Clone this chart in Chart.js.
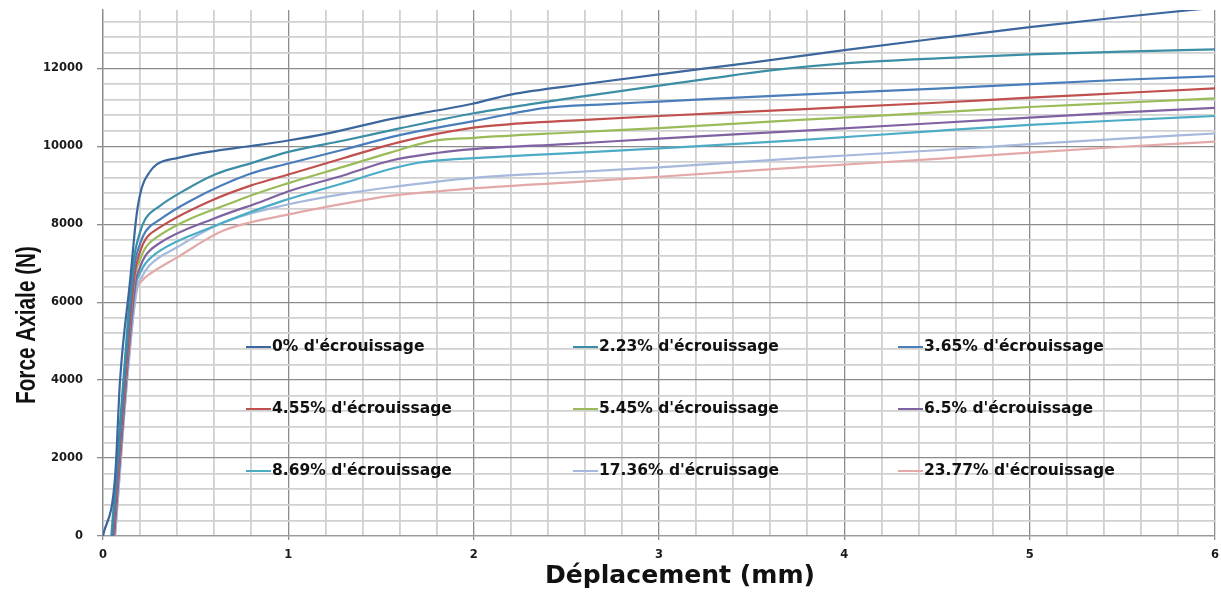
<!DOCTYPE html>
<html>
<head>
<meta charset="utf-8">
<script src="https://cdn.jsdelivr.net/npm/chart.js@4.4.1/dist/chart.umd.min.js"></script>
<style>
  html, body { margin: 0; padding: 0; background: #fff; }
</style>
</head>
<body>
<canvas id="chart" width="1221" height="592"></canvas>
<script>
/* ── DATA ── */
const seriesLabels = [
  "0% d'écrouissage", "2.23% d'écrouissage", "3.65% d'écrouissage",
  "4.55% d'écrouissage", "5.45% d'écrouissage", "6.5% d'écrouissage",
  "8.69% d'écrouissage", "17.36% d'écruissage", "23.77% d'écrouissage"
];
const seriesColors = ['#3c679e', '#3b8ea5', '#4a7ebb', '#c0504d', '#9bbb59', '#7f62a1', '#4bacc6', '#a6b9dc', '#e3a9a8'];

// displacement (mm) / force (N), one pair per curve
const disp0  = [0, 0.065, 0.092, 0.146, 0.182, 0.21, 0.25, 0.29, 0.4, 0.6, 0.8, 1.0, 1.2, 1.55, 1.8, 2.0, 2.2, 2.6, 3.0, 3.5, 4.0, 4.5, 5.0, 5.5, 6.0];
const force0 = [0, 1500, 4000, 6550, 8270, 8950, 9330, 9540, 9700, 9880, 10010, 10150, 10320, 10700, 10920, 11100, 11330, 11600, 11850, 12150, 12470, 12770, 13060, 13320, 13560];
const disp1  = [0.045, 0.11, 0.16, 0.2, 0.23, 0.3, 0.45, 0.61, 0.8, 1.0, 1.3, 1.6, 2.0, 2.3, 2.6, 3.0, 3.3, 3.6, 4.0, 4.5, 5.0, 5.5, 6.0];
const force1 = [0, 4000, 6900, 7800, 8150, 8450, 8900, 9290, 9570, 9860, 10150, 10460, 10850, 11080, 11290, 11560, 11760, 11950, 12130, 12260, 12360, 12430, 12490];
const disp2  = [0.05, 0.115, 0.165, 0.2, 0.23, 0.3, 0.47, 0.79, 1.0, 1.3, 1.6, 2.0, 2.39, 2.7, 3.0, 3.76, 4.5, 5.0, 5.5, 6.0];
const force2 = [0, 4000, 6800, 7500, 7820, 8100, 8600, 9290, 9560, 9920, 10290, 10650, 10990, 11080, 11150, 11330, 11480, 11600, 11710, 11800];
const disp3  = [0.055, 0.12, 0.17, 0.2, 0.23, 0.3, 0.58, 0.8, 1.01, 1.3, 1.6, 2.0, 2.2, 2.6, 3.0, 3.76, 4.5, 5.0, 5.5, 6.0];
const force3 = [0, 4000, 6700, 7300, 7620, 7900, 8600, 9000, 9290, 9700, 10110, 10480, 10570, 10680, 10780, 10950, 11120, 11250, 11370, 11490];
const disp4  = [0.055, 0.12, 0.17, 0.2, 0.23, 0.3, 0.72, 1.01, 1.3, 1.55, 1.78, 2.0, 2.5, 3.0, 3.76, 4.5, 5.0, 5.5, 6.0];
const force4 = [0, 4000, 6600, 7100, 7400, 7700, 8600, 9070, 9480, 9840, 10140, 10220, 10350, 10470, 10680, 10870, 11010, 11120, 11230];
const disp5  = [0.06, 0.125, 0.175, 0.2, 0.23, 0.3, 0.6, 0.865, 1.01, 1.3, 1.55, 1.8, 2.0, 2.5, 3.0, 3.76, 4.5, 5.0, 5.5, 6.0];
const force5 = [0, 4000, 6500, 6900, 7200, 7500, 8150, 8600, 8860, 9260, 9630, 9830, 9930, 10060, 10200, 10400, 10600, 10740, 10870, 10990];
const disp6  = [0.06, 0.125, 0.175, 0.2, 0.23, 0.3, 0.6, 0.97, 1.3, 1.55, 1.7, 1.78, 2.0, 2.5, 3.0, 3.76, 4.5, 5.0, 5.5, 6.0];
const force6 = [0, 4000, 6400, 6750, 7000, 7300, 7950, 8600, 9060, 9420, 9580, 9630, 9700, 9820, 9950, 10160, 10400, 10550, 10670, 10780];
const disp7  = [0.065, 0.13, 0.18, 0.21, 0.25, 0.4, 0.65, 1.01, 1.3, 1.55, 2.0, 2.5, 3.0, 3.76, 4.5, 5.0, 5.5, 6.0];
const force7 = [0, 4000, 6300, 6650, 6940, 7410, 8050, 8520, 8780, 8950, 9190, 9330, 9460, 9700, 9900, 10060, 10200, 10330];
const disp8  = [0.065, 0.13, 0.18, 0.21, 0.24, 0.4, 0.65, 1.01, 1.3, 1.55, 2.0, 2.5, 3.0, 3.76, 4.5, 5.0, 5.5, 6.0];
const force8 = [0, 4000, 6250, 6550, 6680, 7150, 7840, 8260, 8530, 8730, 8920, 9070, 9220, 9460, 9680, 9840, 9990, 10120];

const dispSets  = [disp0, disp1, disp2, disp3, disp4, disp5, disp6, disp7, disp8];
const forceSets = [force0, force1, force2, force3, force4, force5, force6, force7, force8];

// grid positions: minor every 0.2 mm / 400 N, labelled every 1 mm / 2000 N
const xGrid = [0, 0.2, 0.4, 0.6, 0.8, 1, 1.2, 1.4, 1.6, 1.8, 2, 2.2, 2.4, 2.6, 2.8, 3, 3.2, 3.4, 3.6, 3.8, 4, 4.2, 4.4, 4.6, 4.8, 5, 5.2, 5.4, 5.6, 5.8, 6];
const yGrid = [0, 400, 800, 1200, 1600, 2000, 2400, 2800, 3200, 3600, 4000, 4400, 4800, 5200, 5600, 6000, 6400, 6800,
               7200, 7600, 8000, 8400, 8800, 9200, 9600, 10000, 10400, 10800, 11200, 11600, 12000, 12400, 12800, 13200];

/* ── HELPERS ── */
const isMultiple = (v, step) => Math.abs(v / step - Math.round(v / step)) < 1e-6;
const FONT = "'DejaVu Sans', Verdana, sans-serif";
const MAJOR = '#8c8c8c', MINOR = '#d0d0d0', NONE = 'rgba(0,0,0,0)';

// draws text squeezed/stretched to a target width
function fitText(ctx, text, cx, cy, width, font, angle) {
  ctx.save();
  ctx.font = font;
  const w = ctx.measureText(text).width;
  ctx.translate(cx, cy);
  ctx.rotate(angle || 0);
  ctx.scale(width / w, 1);
  ctx.textAlign = 'center';
  ctx.textBaseline = 'middle';
  ctx.fillText(text, 0, 0);
  ctx.restore();
}

/* ── OVERLAY: axis titles + in-plot legend ── */
const overlay = {
  id: 'overlay',
  afterDraw(chart) {
    const ctx = chart.ctx;
    ctx.fillStyle = '#111';
    fitText(ctx, 'Force Axiale (N)', 28, 325, 158, "bold 27px 'Liberation Sans', Arial, sans-serif", -Math.PI / 2);
    fitText(ctx, 'Déplacement (mm)', 680, 577, 270, 'bold 24px ' + FONT);

    const cols = [246, 573, 898];
    const rows = [347, 409, 471];
    seriesLabels.forEach((lbl, i) => {
      const x = cols[i % 3], y = rows[Math.floor(i / 3)];
      ctx.save();
      ctx.strokeStyle = seriesColors[i];
      ctx.lineWidth = 2;
      ctx.beginPath();
      ctx.moveTo(x, y);
      ctx.lineTo(x + 25, y);
      ctx.stroke();
      ctx.fillStyle = '#111';
      ctx.font = 'bold 15.5px ' + FONT;
      ctx.textAlign = 'left';
      ctx.textBaseline = 'middle';
      ctx.fillText(lbl, x + 26, y);
      ctx.restore();
    });
  }
};

/* ── CHART ── */
new Chart(document.getElementById('chart'), {
  type: 'line',
  data: {
    datasets: seriesLabels.map((lbl, i) => ({
      label: lbl,
      data: dispSets[i].map((d, j) => ({ x: d, y: forceSets[i][j] })),
      borderColor: seriesColors[i],
      backgroundColor: seriesColors[i],
      borderWidth: 2.2,
      pointRadius: 0,
      cubicInterpolationMode: 'monotone',
      fill: false
    }))
  },
  options: {
    responsive: false,
    animation: false,
    events: [],
    layout: { padding: { top: 10, right: 6, left: 0, bottom: 0 } },
    plugins: { legend: { display: false }, tooltip: { enabled: false } },
    scales: {
      x: {
        type: 'linear',
        min: 0, max: 6,
        afterBuildTicks: s => { s.ticks = xGrid.map(v => ({ value: v })); },
        afterFit: s => { s.height = 56; s.paddingLeft = 0; s.paddingRight = 0; },
        border: { color: '#9a9a9a', width: 1.3 },
        grid: {
          color: c => isMultiple(c.tick.value, 1) ? MAJOR : MINOR,
          lineWidth: c => isMultiple(c.tick.value, 1) ? 1.3 : 1.8,
          tickColor: c => isMultiple(c.tick.value, 1) ? MAJOR : NONE,
          tickLength: 4
        },
        ticks: {
          autoSkip: false,
          maxRotation: 0,
          padding: 8,
          color: '#1a1a1a',
          font: { family: FONT, size: 11.5, weight: 'bold' },
          callback: v => isMultiple(v, 1) ? String(Math.round(v)) : ''
        }
      },
      y: {
        min: 0, max: 13500,
        afterBuildTicks: s => { s.ticks = yGrid.map(v => ({ value: v })); },
        afterFit: s => { s.width = 103; s.paddingTop = 0; s.paddingBottom = 0; },
        border: { color: MAJOR, width: 1.3 },
        grid: {
          color: c => isMultiple(c.tick.value, 2000) ? MAJOR : MINOR,
          lineWidth: c => isMultiple(c.tick.value, 2000) ? 1.3 : 1.8,
          tickColor: c => isMultiple(c.tick.value, 2000) ? MAJOR : NONE,
          tickLength: 6
        },
        ticks: {
          autoSkip: false,
          padding: 14,
          color: '#1a1a1a',
          font: { family: FONT, size: 11.5, weight: 'bold' },
          callback: v => isMultiple(v, 2000) ? String(v) : ''
        }
      }
    }
  },
  plugins: [overlay]
});
</script>
</body>
</html>
